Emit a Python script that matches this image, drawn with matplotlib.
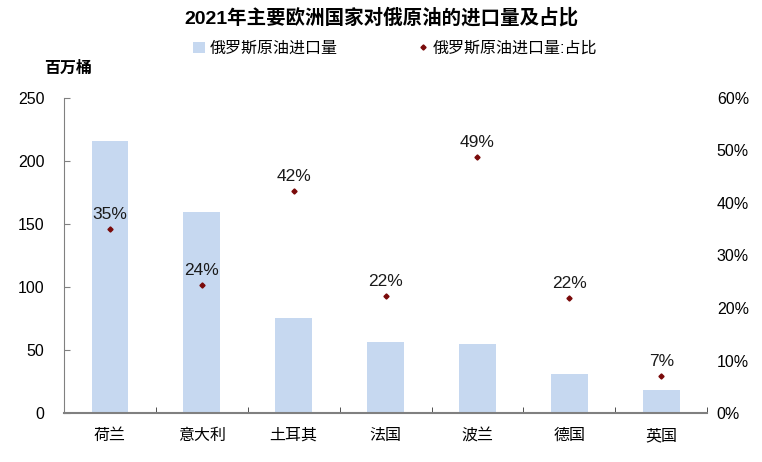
import matplotlib
matplotlib.use('Agg')
import matplotlib.pyplot as plt
from matplotlib.ticker import FuncFormatter, FixedLocator
import numpy as np

plt.rcParams['font.family'] = ['Liberation Sans', 'Noto Sans CJK SC', 'DejaVu Sans']

# data
countries = ['荷兰', '意大利', '土耳其', '法国', '波兰', '德国', '英国']
volume = [216, 159.5, 75.5, 56.5, 54.5, 31, 18]          # 百万桶
share = [0.35, 0.243, 0.423, 0.223, 0.488, 0.219, 0.07]  # 占比
share_labels = ['35%', '24%', '42%', '22%', '49%', '22%', '7%']

bar_color = '#C6D8F0'
dot_color = '#7A0A0A'
axis_color = '#808080'

fig = plt.figure(figsize=(7.62, 4.62), dpi=100)
ax = fig.add_axes([0.084, 0.106, 0.844, 0.682])
ax2 = ax.twinx()

x = np.arange(len(countries))
bars = ax.bar(x, volume, width=0.4, color=bar_color, label='俄罗斯原油进口量', zorder=2)
pts, = ax2.plot(x, share, linestyle='none', marker='D', markersize=2.6,
                color=dot_color, label='俄罗斯原油进口量:占比', zorder=3)

for xi, s, lab in zip(x, share, share_labels):
    ax2.annotate(lab, (xi, s), xytext=(0, 5), textcoords='offset points',
                 ha='center', va='bottom', fontsize=12.5, color='#1a1a1a')

# left axis
ax.set_xlim(-0.5, len(countries) - 0.5)
ax.set_ylim(0, 250)
ax.set_yticks(np.arange(0, 251, 50))
ax.tick_params(axis='y', direction='in', length=4, color=axis_color,
               labelsize=11.5, pad=14)
ax.set_xticks(x)
ax.set_xticklabels(countries, family=['Noto Sans CJK SC'], fontsize=11.5)
ax.tick_params(axis='x', which='major', length=0, pad=10)
ax.xaxis.set_minor_locator(FixedLocator(np.arange(-0.5, len(countries), 1)))
ax.tick_params(axis='x', which='minor', direction='in', length=4, color='#333333')

for side in ['top', 'right']:
    ax.spines[side].set_visible(False)
ax.spines['left'].set_color(axis_color)
ax.spines['bottom'].set_color(axis_color)
ax.spines['bottom'].set_linewidth(1.5)

# right axis
ax2.set_ylim(0, 0.6)
ax2.set_yticks(np.arange(0, 0.61, 0.1))
ax2.yaxis.set_major_formatter(FuncFormatter(lambda v, p: f'{v * 100:.0f}%'))
ax2.tick_params(axis='y', length=0, labelsize=11.5, pad=7)
for side in ['top', 'right', 'left', 'bottom']:
    ax2.spines[side].set_visible(False)

fig.text(0.5, 0.963, '2021年主要欧洲国家对俄原油的进口量及占比', ha='center', va='center',
         fontsize=14, fontweight='bold', family=['Liberation Sans', 'Noto Sans CJK SC'])
fig.text(0.058, 0.852, '百万桶', ha='left', va='center', fontsize=11.5,
         fontweight='bold', family=['Noto Sans CJK SC'])

leg = fig.legend(handles=[bars, pts], loc='center', bbox_to_anchor=(0.519, 0.895), ncol=2,
                 frameon=False, columnspacing=5.0, handlelength=0.7,
                 handletextpad=0.3, prop={'family': ['Liberation Sans', 'Noto Sans CJK SC'], 'size': 11.5})

fig.savefig('out.png', dpi=100)
